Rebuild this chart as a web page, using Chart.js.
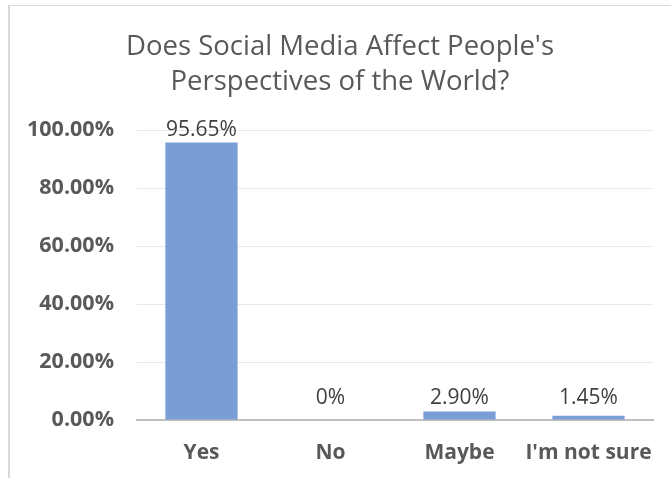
<!DOCTYPE html>
<html>
<head>
<meta charset="utf-8">
<script src="https://cdn.jsdelivr.net/npm/chart.js@4.4.1/dist/chart.umd.min.js"></script>
<style>
    html, body { margin: 0; padding: 0; background: #fff; }
    #wrap { position: relative; width: 671px; height: 478px; overflow: hidden; }
    /* chart frame: only top and left edges fall inside the window */
    #frame { position: absolute; left: 8px; top: 5px; width: 700px; height: 500px;
             border-top: 1px solid #d9d9d9; border-left: 2px solid #d9d9d9; }
    #chart { position: absolute; left: 0; top: 0; }
</style>
</head>
<body>
<div id="wrap">
    <div id="frame"></div>
    <canvas id="chart" width="671" height="478"></canvas>
</div>
<script>
var categories = ['Yes', 'No', 'Maybe', "I'm not sure"];
var percentValues = [95.65, 0, 2.90, 1.45];
var yTicks = [0, 20, 40, 60, 80, 100];
var titleLines = ["Does Social Media Affect People's", 'Perspectives of the World?'];

var FONT = "'Open Sans', 'Noto Sans', sans-serif";

function fmtLabel(v) {
    return v === 0 ? '0%' : v.toFixed(2) + '%';
}

// value labels above each bar; very short bars share one baseline
var barLabels = {
    id: 'barLabels',
    afterDatasetsDraw: function (chart) {
        var ctx = chart.ctx;
        var yScale = chart.scales.y;
        var floorY = yScale.getPixelForValue(3.1);
        var meta = chart.getDatasetMeta(0);
        ctx.save();
        ctx.font = '21px ' + FONT;
        ctx.fillStyle = '#404040';
        ctx.textAlign = 'center';
        ctx.textBaseline = 'middle';
        meta.data.forEach(function (bar, i) {
            var y = Math.min(bar.y, floorY) - 13;
            ctx.fillText(fmtLabel(percentValues[i]), bar.x, y);
        });
        ctx.restore();
    }
};

var ctx = document.getElementById('chart').getContext('2d');
new Chart(ctx, {
    type: 'bar',
    data: {
        labels: categories,
        datasets: [{
            data: percentValues,
            backgroundColor: '#7a9dd5',
            borderWidth: 0,
            categoryPercentage: 1,
            barPercentage: 0.56
        }]
    },
    options: {
        responsive: false,
        animation: false,
        layout: { padding: { left: 27, right: 18, top: 0, bottom: 0 } },
        plugins: {
            legend: { display: false },
            tooltip: { enabled: false },
            title: {
                display: true,
                text: titleLines,
                color: '#595959',
                font: { family: FONT, size: 27.5, weight: 'normal', lineHeight: 1.3 },
                padding: { top: 29, bottom: 29.5 }
            }
        },
        scales: {
            x: {
                grid: { display: false, drawTicks: false },
                border: { display: true, color: '#bfbfbf', width: 2 },
                ticks: {
                    color: '#595959',
                    font: { family: FONT, size: 21, weight: 'bold' },
                    padding: 20,
                    autoSkip: false,
                    maxRotation: 0
                },
                afterFit: function (scale) {
                    scale.height = 58;
                    scale.paddingLeft = 0;
                    scale.paddingRight = 0;
                }
            },
            y: {
                min: 0,
                max: 100,
                afterBuildTicks: function (scale) {
                    scale.ticks = yTicks.map(function (v) { return { value: v }; });
                },
                grid: { color: '#e8e8e8', lineWidth: 1, drawTicks: false },
                border: { display: false },
                ticks: {
                    color: '#595959',
                    font: { family: FONT, size: 21.5, weight: 'bold' },
                    padding: 23,
                    callback: function (v) { return v.toFixed(2) + '%'; }
                },
                afterFit: function (scale) { scale.width = 110; }
            }
        }
    },
    plugins: [barLabels]
});
</script>
</body>
</html>
